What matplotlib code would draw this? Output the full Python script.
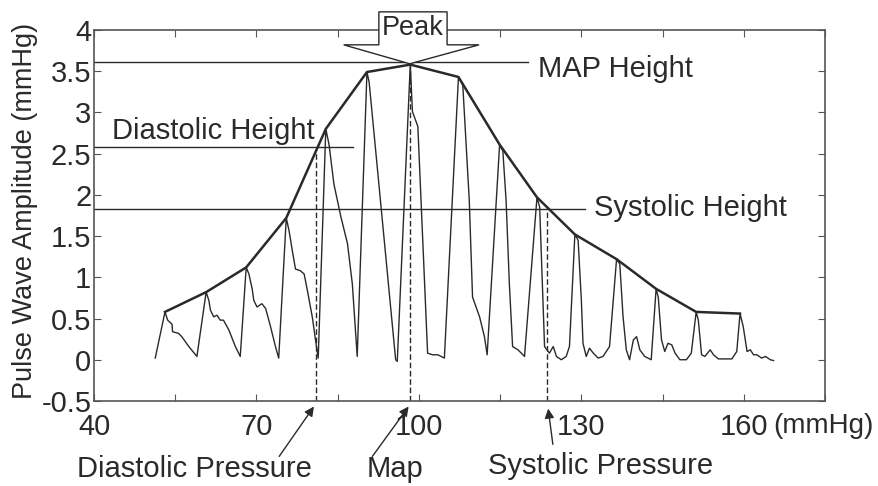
import matplotlib
matplotlib.use("Agg")
import matplotlib.pyplot as plt
from matplotlib.patches import Polygon

plt.rcParams['font.family'] = ['Liberation Sans', 'DejaVu Sans']

# oscillometric pulse wave (cuff pressure in mmHg, amplitude in mmHg)
wave_x = [51.3, 53.1, 53.6, 54.4, 54.5, 55.6, 56.2, 57.5, 59.0,
          60.7, 61.2, 61.5, 62.1, 62.7, 63.3, 63.9, 64.9, 66.1, 67.0,
          68.1, 68.6, 69.2, 69.5, 70.1, 71.0, 71.7, 72.6, 73.5, 74.1,
          75.5, 76.0, 76.6, 77.2, 78.1, 78.8, 79.4, 80.3, 80.9, 81.4,
          82.8, 83.4, 84.3, 85.6, 86.8, 87.7, 88.6,
          90.4, 90.8, 95.7, 96.0,
          98.4, 98.8, 99.8, 101.6, 102.5, 103.5, 104.7,
          107.3, 108.1, 109.3, 109.9, 111.2, 112.1, 112.6,
          114.9, 115.5, 116.1, 116.7, 117.3, 118.3, 118.9, 119.5,
          121.8, 122.3, 123.2, 124.1, 124.8, 125.4, 126.3, 127.2, 127.8,
          128.8, 129.4, 130.0, 130.3, 130.9, 131.5, 132.2, 133.1, 134.0, 135.2,
          136.5, 137.1, 137.7, 138.3, 138.9, 139.6, 140.2, 140.8, 141.7, 142.9,
          143.8, 144.2, 144.8, 145.4, 146.0, 146.7, 147.3, 148.2, 149.4, 150.3,
          151.2, 151.6, 152.2, 152.8, 153.8, 154.4, 155.3, 157.8, 158.7,
          159.3, 159.9, 160.6, 161.2, 161.8, 162.4, 163.3, 164.0, 164.9, 165.5]
wave_y = [0.02, 0.58, 0.48, 0.43, 0.34, 0.32, 0.28, 0.16, 0.04,
          0.82, 0.72, 0.60, 0.52, 0.54, 0.48, 0.48, 0.36, 0.16, 0.04,
          1.12, 1.04, 0.86, 0.72, 0.64, 0.68, 0.62, 0.40, 0.16, 0.02,
          1.72, 1.57, 1.33, 1.10, 1.08, 1.04, 0.84, 0.52, 0.24, 0.02,
          2.80, 2.61, 2.13, 1.73, 1.41, 0.92, 0.04,
          3.49, 3.37, 0.00, -0.02,
          3.58, 3.01, 2.83, 0.08, 0.06, 0.06, 0.02,
          3.43, 3.33, 1.93, 0.76, 0.52, 0.28, 0.06,
          2.61, 2.53, 1.93, 0.92, 0.16, 0.12, 0.08, 0.04,
          1.97, 1.85, 0.16, 0.08, 0.16, 0.04, 0.00, 0.04, 0.16,
          1.52, 1.45, 0.72, 0.20, 0.04, 0.14, 0.08, 0.02, 0.04, 0.16,
          1.22, 1.16, 0.52, 0.12, 0.00, 0.24, 0.28, 0.12, 0.04, 0.00,
          0.86, 0.76, 0.24, 0.10, 0.20, 0.18, 0.08, 0.00, 0.00, 0.08,
          0.58, 0.48, 0.06, 0.04, 0.12, 0.06, 0.01, 0.01, 0.10,
          0.56, 0.40, 0.10, 0.12, 0.06, 0.06, 0.02, 0.04, 0.00, -0.01]

# envelope through the pulse peaks
env_x = [53.1, 60.7, 68.1, 75.5, 82.8, 90.4, 98.4, 107.3, 114.9, 121.8, 128.8, 136.5, 143.8, 151.2, 159.3]
env_y = [0.58, 0.82, 1.12, 1.72, 2.80, 3.49, 3.58, 3.43, 2.61, 1.97, 1.52, 1.22, 0.86, 0.58, 0.56]

# characteristic heights and pressures
map_height, dia_height, sys_height = 3.61, 2.58, 1.83
dia_p, map_p, sys_p = 80.9, 98.4, 123.6
dia_env, map_env, sys_env = 2.52, 3.58, 1.86

xticks = [40, 55, 70, 85, 100, 115, 130, 145, 160, 175]
xlabels = ['40', '', '70', '', '100', '', '130', '', '160', '']
yticks = [-0.5, 0, 0.5, 1, 1.5, 2, 2.5, 3, 3.5, 4]
ylabels = ['-0.5', '0', '0.5', '1', '1.5', '2', '2.5', '3', '3.5', '4']

ink = '#2a2a2a'
fs = 21

fig = plt.figure(figsize=(8.79, 4.86), dpi=100)
ax = fig.add_axes([0.107, 0.175, 0.8316, 0.7633])

ax.plot(wave_x, wave_y, color=ink, lw=1.0)
ax.plot(env_x, env_y, color=ink, lw=1.8)

ax.plot([40, 120.2], [map_height, map_height], color=ink, lw=1.0, clip_on=False)
ax.plot([40, 87.8], [dia_height, dia_height], color=ink, lw=1.0, clip_on=False)
ax.plot([40, 130.7], [sys_height, sys_height], color=ink, lw=1.0, clip_on=False)

for xp, ye in [(dia_p, dia_env), (map_p, map_env), (sys_p, sys_env)]:
    ax.plot([xp, xp], [-0.5, ye], color=ink, lw=1.0, ls=(0, (4, 2)))

ax.text(43.3, 2.77, 'Diastolic Height', fontsize=fs, color=ink, va='center', ha='left')
ax.text(121.9, 3.53, 'MAP Height', fontsize=fs, color=ink, va='center', ha='left')
ax.text(132.4, 1.84, 'Systolic Height', fontsize=fs, color=ink, va='center', ha='left')

# big "Peak" arrow
peak_arrow = Polygon([(92.6, 4.22), (105.2, 4.22), (105.2, 3.82), (111.1, 3.82),
                      (98.3, 3.59), (86.1, 3.82), (92.6, 3.82)],
                     closed=True, facecolor='white', edgecolor=ink, lw=1.0, clip_on=False, zorder=5)
ax.add_patch(peak_arrow)
ax.text(98.9, 4.03, 'Peak', fontsize=19.5, color=ink, ha='center', va='center', zorder=6)

arrow_kw = dict(arrowstyle='-|>', color=ink, lw=1.0, mutation_scale=14)
ax.annotate('', xy=(dia_p, -0.54), xytext=(73.9, -1.2), arrowprops=arrow_kw, annotation_clip=False)
ax.annotate('', xy=(map_p, -0.54), xytext=(91.1, -1.2), arrowprops=arrow_kw, annotation_clip=False)
ax.annotate('', xy=(sys_p + 0.2, -0.56), xytext=(124.8, -1.06), arrowprops=arrow_kw, annotation_clip=False)
ax.text(58.6, -1.33, 'Diastolic Pressure', fontsize=fs, color=ink, ha='center', va='center')
ax.text(95.6, -1.33, 'Map', fontsize=fs, color=ink, ha='center', va='center')
ax.text(133.6, -1.29, 'Systolic Pressure', fontsize=fs, color=ink, ha='center', va='center')

ax.set_xlim(40, 175)
ax.set_ylim(-0.5, 4)
ax.set_xticks(xticks)
ax.set_xticklabels(xlabels)
ax.set_yticks(yticks)
ax.set_yticklabels(ylabels)
ax.tick_params(direction='in', top=True, right=True, length=5, color='#555555',
               labelsize=fs, labelcolor=ink)
ax.tick_params(axis='x', pad=9)
ax.tick_params(axis='y', pad=2)

# unit label sits on the same line as the x tick labels
unit_trans = ax.get_xaxis_text1_transform(9)[0]
ax.text(165.4, 0, '(mmHg)', fontsize=20, color=ink, ha='left', va='top', transform=unit_trans)

for sp in ax.spines.values():
    sp.set_color('#555555')
    sp.set_linewidth(1.2)

fig.text(0.028, 0.565, 'Pulse Wave Amplitude (mmHg)', fontsize=19.5, color=ink,
         rotation=90, ha='center', va='center')

fig.savefig('out.png', dpi=100)
